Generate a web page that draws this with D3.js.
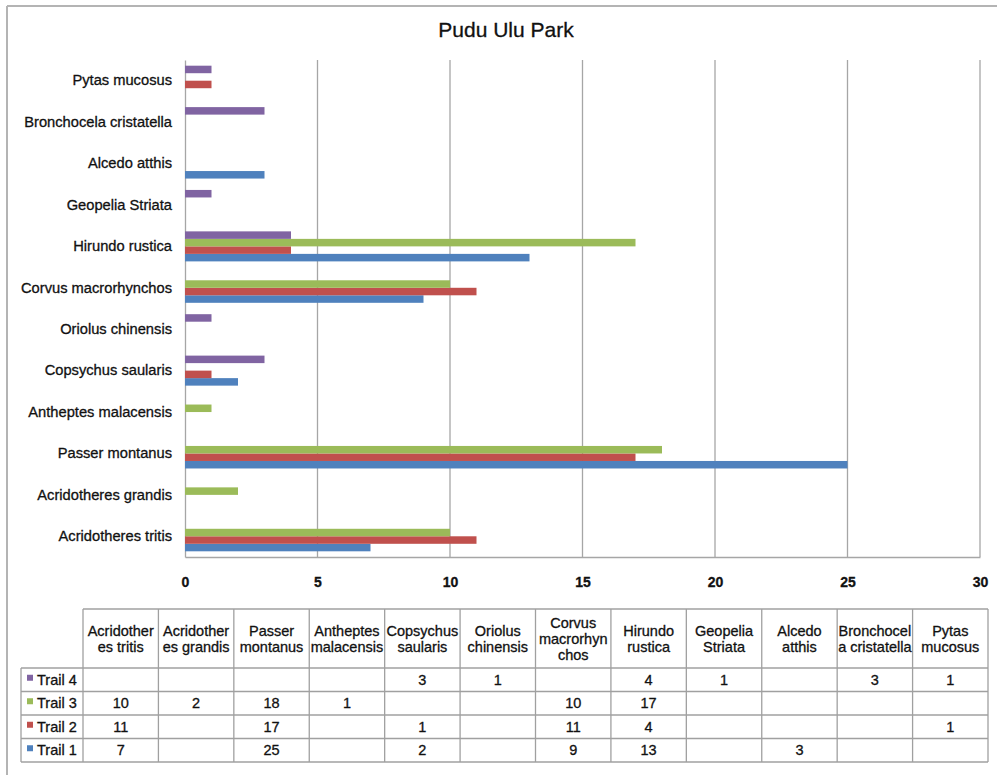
<!DOCTYPE html>
<html>
<head>
<meta charset="utf-8">
<script src="https://cdn.jsdelivr.net/npm/d3@7"></script>
<style>
  html, body { margin: 0; padding: 0; background: #fff; }
  svg { display: block; font-family: "Liberation Sans", Arial, sans-serif; }
  text { stroke: #111; stroke-width: 0.3px; paint-order: stroke; }
</style>
</head>
<body>
<svg id="chart" width="997" height="775"></svg>
<script>
// ---- data ----
const categories = ["Acridotheres tritis", "Acridotheres grandis", "Passer montanus", "Antheptes malacensis",
  "Copsychus saularis", "Oriolus chinensis", "Corvus macrorhynchos", "Hirundo rustica",
  "Geopelia Striata", "Alcedo atthis", "Bronchocela cristatella", "Pytas mucosus"];
const tableHeaders = [["Acridother", "es tritis"], ["Acridother", "es grandis"], ["Passer", "montanus"],
  ["Antheptes", "malacensis"], ["Copsychus", "saularis"], ["Oriolus", "chinensis"],
  ["Corvus", "macrorhyn", "chos"], ["Hirundo", "rustica"], ["Geopelia", "Striata"],
  ["Alcedo", "atthis"], ["Bronchocel", "a cristatella"], ["Pytas", "mucosus"]];
const seriesNames = ["Trail 1", "Trail 2", "Trail 3", "Trail 4"];
const trail1 = [7, null, 25, null, 2, null, 9, 13, null, 3, null, null];
const trail2 = [11, null, 17, null, 1, null, 11, 4, null, null, null, 1];
const trail3 = [10, 2, 18, 1, null, null, 10, 17, null, null, null, null];
const trail4 = [null, null, null, null, 3, 1, null, 4, 1, null, 3, 1];
const seriesColors = ["#4F81BD", "#C0504D", "#9BBB59", "#8064A2"];
const xTicks = [0, 5, 10, 15, 20, 25, 30];
const title = "Pudu Ulu Park";

const series = [trail1, trail2, trail3, trail4].map((vals, i) => ({ name: seriesNames[i], values: vals, color: seriesColors[i] }));

const svg = d3.select("#chart");

// outer chart border (top & left visible)
svg.append("line").attr("x1", 7).attr("y1", 6).attr("x2", 997).attr("y2", 6).attr("stroke", "#b4b4b4").attr("stroke-width", 2);
svg.append("line").attr("x1", 7).attr("y1", 6).attr("x2", 7).attr("y2", 775).attr("stroke", "#b4b4b4").attr("stroke-width", 2);

// title
svg.append("text").attr("x", 506).attr("y", 37).attr("text-anchor", "middle")
  .attr("font-size", 21).attr("fill", "#111").text(title);

// ---- scales ----
const plot = { left: 185, right: 980, top: 60, bottom: 557 };
const x = d3.scaleLinear().domain([0, 30]).range([plot.left, plot.right]);
const y = d3.scaleBand().domain(categories.slice().reverse()).range([plot.top, plot.bottom])
  .paddingInner(0.275).paddingOuter(0.1375);
const yInner = d3.scaleBand().domain(seriesNames.slice().reverse()).range([0, y.bandwidth()]);

// gridlines
const grid = svg.append("g");
grid.selectAll("line").data(xTicks.slice(1)).join("line")
  .attr("x1", d => x(d)).attr("x2", d => x(d))
  .attr("y1", plot.top).attr("y2", plot.bottom)
  .attr("stroke", "#a6a6a6").attr("stroke-width", 1.3);

// x axis (labels only) via d3 axis
const xAxis = svg.append("g").attr("transform", `translate(0,${plot.bottom})`)
  .call(d3.axisBottom(x).tickValues(xTicks).tickSize(0).tickPadding(20));
xAxis.select(".domain").attr("stroke", "#a6a6a6").attr("stroke-width", 1.3);
xAxis.selectAll("text").attr("font-size", 14).attr("font-weight", "bold").attr("fill", "#111")
  .attr("font-family", "'Liberation Sans', Arial, sans-serif");

// y axis
const yAxis = svg.append("g").attr("transform", `translate(${plot.left},0)`)
  .call(d3.axisLeft(y).tickSize(0).tickPadding(13));
yAxis.select(".domain").attr("stroke", "#a6a6a6").attr("stroke-width", 1.3);
yAxis.selectAll("text").attr("font-size", 14.7).attr("fill", "#111")
  .attr("font-family", "'Liberation Sans', Arial, sans-serif");

// bars
const bars = svg.append("g");
series.forEach(s => {
  const data = categories.map((c, i) => ({ c, v: s.values[i] })).filter(d => d.v != null);
  bars.append("g").selectAll("rect").data(data).join("rect")
    .attr("x", x(0))
    .attr("y", d => y(d.c) + yInner(s.name))
    .attr("width", d => x(d.v) - x(0))
    .attr("height", yInner.bandwidth())
    .attr("fill", s.color);
});

// ---- data table ----
const tbl = { left: 21, colStart: 83, right: 988, top: 609, headerBottom: 668, bottom: 762 };
const colX = d3.scaleBand().domain(categories).range([tbl.colStart, tbl.right]);
const rowY = d3.scaleBand().domain(seriesNames.slice().reverse()).range([tbl.headerBottom, tbl.bottom]);
const tg = svg.append("g");
const lineColor = "#a0a0a0";

// horizontal lines
tg.append("line").attr("x1", tbl.colStart).attr("x2", tbl.right).attr("y1", tbl.top).attr("y2", tbl.top)
  .attr("stroke", lineColor).attr("stroke-width", 1.3);
rowY.domain().forEach(r => {
  tg.append("line").attr("x1", tbl.left).attr("x2", tbl.right).attr("y1", rowY(r)).attr("y2", rowY(r))
    .attr("stroke", lineColor).attr("stroke-width", 1.3);
});
tg.append("line").attr("x1", tbl.left).attr("x2", tbl.right).attr("y1", tbl.bottom).attr("y2", tbl.bottom)
  .attr("stroke", lineColor).attr("stroke-width", 1.3);
// vertical lines
tg.append("line").attr("x1", tbl.left).attr("x2", tbl.left).attr("y1", tbl.headerBottom).attr("y2", tbl.bottom)
  .attr("stroke", lineColor).attr("stroke-width", 1.3);
categories.forEach(c => {
  tg.append("line").attr("x1", colX(c)).attr("x2", colX(c)).attr("y1", tbl.top).attr("y2", tbl.bottom)
    .attr("stroke", lineColor).attr("stroke-width", 1.3);
});
tg.append("line").attr("x1", tbl.right).attr("x2", tbl.right).attr("y1", tbl.top).attr("y2", tbl.bottom)
  .attr("stroke", lineColor).attr("stroke-width", 1.3);

// headers
categories.forEach((c, i) => {
  const lines = tableHeaders[i];
  const cx = colX(c) + colX.bandwidth() / 2;
  const cy = (tbl.top + tbl.headerBottom) / 2;
  const lh = 16;
  const t = tg.append("text").attr("text-anchor", "middle").attr("font-size", 14.5).attr("fill", "#111");
  lines.forEach((ln, k) => {
    t.append("tspan").attr("x", cx).attr("y", cy + (k - (lines.length - 1) / 2) * lh + 5).text(ln);
  });
});

// row labels & values
series.forEach(s => {
  const ry = rowY(s.name) + rowY.bandwidth() / 2;
  tg.append("rect").attr("x", 27).attr("y", ry - 5).attr("width", 6).attr("height", 6).attr("fill", s.color);
  tg.append("text").attr("x", 37).attr("y", ry + 5).attr("font-size", 14.5)
    .attr("fill", "#111").text(s.name);
  categories.forEach((c, i) => {
    const v = s.values[i];
    if (v == null) return;
    tg.append("text").attr("x", colX(c) + colX.bandwidth() / 2).attr("y", ry + 5)
      .attr("text-anchor", "middle").attr("font-size", 14.5).attr("fill", "#111")
      .text(v);
  });
});
</script>
</body>
</html>
